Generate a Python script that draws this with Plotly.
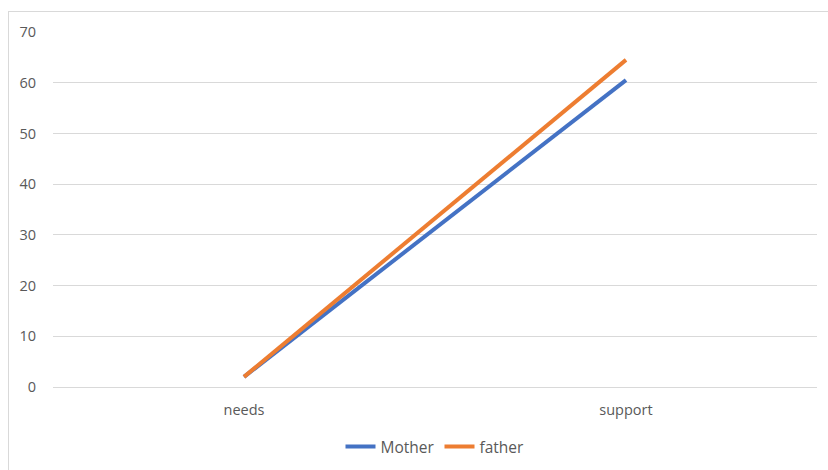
import plotly.graph_objects as go

categories = ["needs", "support"]
mother = [2, 60.5]
father = [2, 64.5]

fig = go.Figure()
fig.add_trace(go.Scatter(x=categories, y=mother, mode="lines", name="Mother",
                         line=dict(color="#4472C4", width=4)))
fig.add_trace(go.Scatter(x=categories, y=father, mode="lines", name="father",
                         line=dict(color="#ED7D31", width=4)))

W, H = 828, 470
l, r, t, b = 53, 11, 32, 83
pw, ph = W - l - r, H - t - b

def px_x(px):
    return (px - l) / pw

def px_y(py):
    return (H - b - py) / ph

fig.update_layout(
    width=W, height=H,
    margin=dict(l=l, r=r, t=t, b=b, autoexpand=False),
    paper_bgcolor="white", plot_bgcolor="white",
    font=dict(family="Open Sans, Liberation Sans, sans-serif", size=14, color="#595959"),
    xaxis=dict(type="category", range=[-0.5, 1.5], showgrid=False, showline=False,
               zeroline=False, ticks="", ticklabelstandoff=12,
               tickfont=dict(size=14.5)),
    yaxis=dict(range=[0, 70], dtick=10, showgrid=True, gridcolor="#D9D9D9", gridwidth=1,
               zeroline=True, zerolinecolor="#D9D9D9", zerolinewidth=1,
               showline=False, ticks="", ticklabelstandoff=16,
               tickfont=dict(size=14.5)),
    showlegend=True,
    legend=dict(orientation="h", x=0.5, xanchor="center", yref="container",
                y=1 - 447 / H, yanchor="middle",
                font=dict(size=15.5, color="#595959"), traceorder="normal"),
    shapes=[
        dict(type="line", xref="paper", yref="paper", x0=px_x(8.5), x1=px_x(8.5),
             y0=px_y(11), y1=px_y(472), line=dict(color="#D9D9D9", width=1)),
        dict(type="line", xref="paper", yref="paper", x0=px_x(8.5), x1=px_x(830),
             y0=px_y(11.5), y1=px_y(11.5), line=dict(color="#D9D9D9", width=1)),
    ],
)

fig.write_html("out.html")
